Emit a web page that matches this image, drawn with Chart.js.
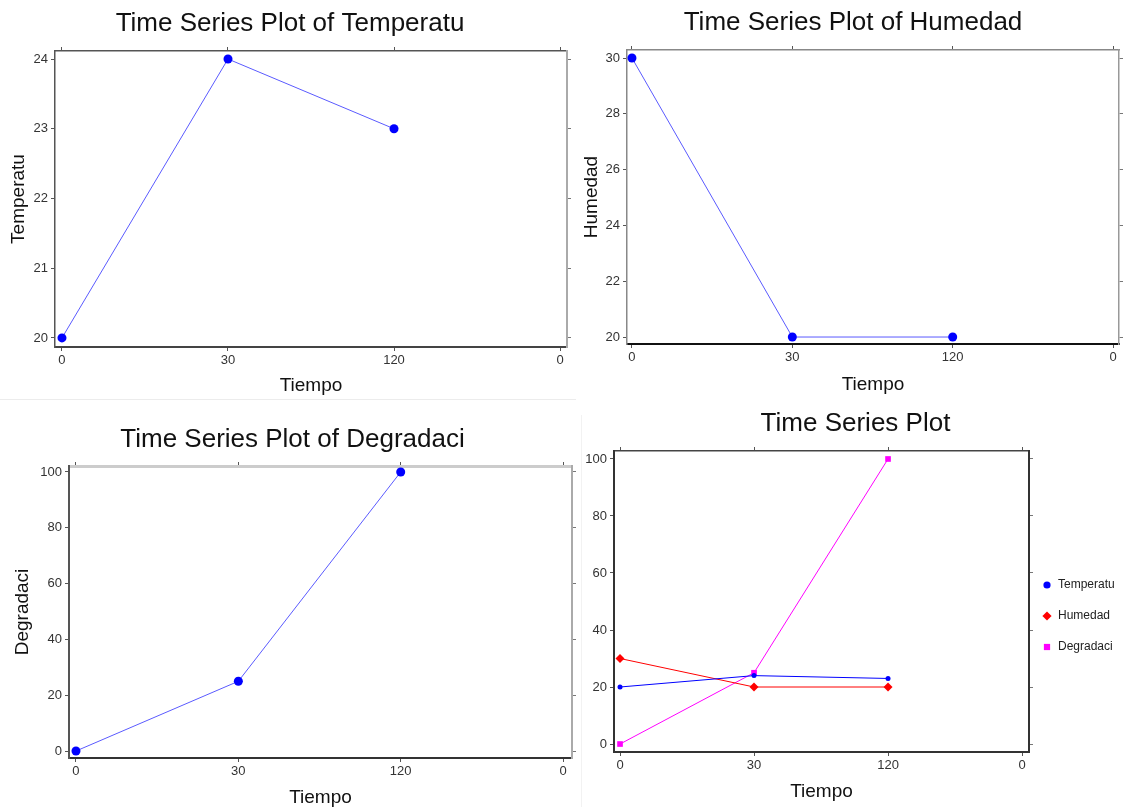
<!DOCTYPE html>
<html><head><meta charset="utf-8">
<script src="https://cdn.jsdelivr.net/npm/chart.js@4.4.1/dist/chart.umd.min.js"></script>
<style>
html,body{margin:0;padding:0;background:#fff;}
body{width:1126px;height:807px;overflow:hidden;position:relative;}
canvas{position:absolute;}
.edge{position:absolute;background:#ececec;}
</style></head><body>
<div class="edge" style="left:0;top:399px;width:576px;height:1px;"></div>
<div class="edge" style="left:581px;top:415px;width:1px;height:392px;background:#f2f2f2;"></div>
<canvas id="c1"></canvas>
<canvas id="c2"></canvas>
<canvas id="c3"></canvas>
<canvas id="c4"></canvas>
<script>
// ---- data ----
const tiempo = ['0', '30', '120', '0'];
const temperatu = [20, 24, 23];
const humedad = [30, 20, 20];
const degradaci = [0, 25, 100];
const tempTicks = [20, 21, 22, 23, 24];
const humTicks = [20, 22, 24, 26, 28, 30];
const degTicks = [0, 20, 40, 60, 80, 100];
const allTicks = [0, 20, 40, 60, 80, 100];
const seriesNames = ['Temperatu', 'Humedad', 'Degradaci'];

const xIdx = tiempo.map((_, i) => i);
const FONT = "'Liberation Sans', Arial, sans-serif";
Chart.defaults.animation = false;

function pts(vals) { return vals.map((v, i) => ({ x: xIdx[i], y: v })); }

function drawMarker(ctx, style, r, x, y) {
  ctx.beginPath();
  if (style === 'circle') {
    ctx.arc(x, y, r, 0, Math.PI * 2);
  } else if (style === 'rectRot') {
    ctx.moveTo(x, y - r); ctx.lineTo(x + r, y); ctx.lineTo(x, y + r); ctx.lineTo(x - r, y); ctx.closePath();
  } else {
    const h = r * Math.SQRT1_2;
    ctx.rect(x - h, y - h, 2 * h, 2 * h);
  }
  ctx.fill();
}

// legend drawn at the right of the combined plot
const sideLegend = {
  id: 'sideLegend',
  afterDraw(chart, args, opts) {
    if (!opts || !opts.display) return;
    const ctx = chart.ctx;
    ctx.save();
    ctx.font = '12px ' + FONT;
    ctx.textBaseline = 'middle';
    ctx.textAlign = 'left';
    chart.data.datasets.forEach((ds, i) => {
      const y = opts.y0 + i * opts.step;
      ctx.fillStyle = ds.borderColor;
      drawMarker(ctx, ds.pointStyle, opts.radius[i], opts.x, y);
      ctx.fillStyle = '#222';
      ctx.fillText(ds.label, opts.x + opts.textGap, y);
    });
    ctx.restore();
  }
};

function makePanel(p) {
  const cv = document.getElementById(p.id);
  cv.style.left = p.x + 'px'; cv.style.top = p.y + 'px';
  cv.width = p.w; cv.height = p.h;
  cv.style.width = p.w + 'px'; cv.style.height = p.h + 'px';
  const l = p.area[0] - p.x, t = p.area[1] - p.y;
  const r = p.x + p.w - p.area[2], b = p.y + p.h - p.area[3];
  const tSize = 26, tLH = 1.2;
  const tPad = p.titleY - p.y - tSize * tLH / 2;
  const titleH = tSize * tLH + tPad;
  const tickFont = { family: FONT, size: 13 };
  const xTicks = s => { s.ticks = xIdx.map(v => ({ value: v })); };
  const yTicks = s => { s.ticks = p.yTicks.map(v => ({ value: v })); };
  const grid = c => ({ drawOnChartArea: false, drawTicks: true, tickLength: 4, color: c, lineWidth: 1 });
  const bd = p.borders;
  const cfg = {
    type: 'line',
    data: { datasets: p.datasets },
    plugins: [sideLegend],
    options: {
      responsive: false,
      animation: false,
      layout: { padding: 0 },
      plugins: {
        title: {
          display: true, text: p.title, color: '#111',
          font: { family: FONT, size: tSize, weight: 'normal', lineHeight: tLH },
          padding: { top: tPad, bottom: 0 }
        },
        legend: { display: false },
        tooltip: { enabled: false },
        sideLegend: p.sideLegend ? Object.assign({ display: true }, p.sideLegend, { x: p.sideLegend.x - p.x, y0: p.sideLegend.y0 - p.y }) : { display: false }
      },
      scales: {
        x: {
          type: 'linear', position: 'bottom', min: p.xMin, max: p.xMax,
          afterBuildTicks: xTicks, afterFit: s => { s.height = b; },
          ticks: { callback: v => tiempo[v], font: tickFont, color: '#333', padding: 2, autoSkip: false, maxRotation: 0 },
          grid: grid('#555'),
          border: { color: bd.bottom[0], width: bd.bottom[1] },
          title: { display: true, text: 'Tiempo', color: '#111', font: { family: FONT, size: 19 }, padding: { top: 0, bottom: p.xTitlePad } }
        },
        x2: {
          type: 'linear', position: 'top', min: p.xMin, max: p.xMax,
          afterBuildTicks: xTicks, afterFit: s => { s.height = t - titleH; },
          ticks: { display: false },
          grid: grid('#555'),
          border: { color: bd.top[0], width: bd.top[1] }
        },
        y: {
          type: 'linear', position: 'left', min: p.yMin, max: p.yMax,
          afterBuildTicks: yTicks, afterFit: s => { s.width = l; },
          ticks: { font: tickFont, color: '#333', padding: 3, autoSkip: false },
          grid: grid('#555'),
          border: { color: bd.left[0], width: bd.left[1] },
          title: { display: !!p.yTitle, text: p.yTitle || '', color: '#111', font: { family: FONT, size: 19 }, padding: { top: p.yTitlePad || 0, bottom: 0 } }
        },
        y2: {
          type: 'linear', position: 'right', min: p.yMin, max: p.yMax,
          afterBuildTicks: yTicks, afterFit: s => { s.width = r; },
          ticks: { display: false },
          grid: grid('#777'),
          border: { color: bd.right[0], width: bd.right[1] }
        }
      }
    }
  };
  return new Chart(cv, cfg);
}

function single(vals) {
  return [{
    label: 'v', data: pts(vals), borderColor: '#5a5aff', backgroundColor: '#0000ff',
    borderWidth: 1, pointRadius: 4.5, pointBackgroundColor: '#0000ff', pointBorderColor: '#0000ff', pointBorderWidth: 0
  }];
}

makePanel({
  id: 'c1', x: 0, y: 0, w: 580, h: 400, area: [55, 51, 567, 347], titleY: 24,
  title: 'Time Series Plot of Temperatu', yTitle: 'Temperatu', yTitlePad: 7.6, xTitlePad: 2.6,
  xMin: -0.042, xMax: 3.042, yMin: 19.87, yMax: 24.115, yTicks: tempTicks,
  borders: { left: ['#555', 1.5], bottom: ['#444', 2], top: ['#555', 1.5], right: ['#aaa', 2] },
  datasets: single(temperatu)
});

makePanel({
  id: 'c2', x: 580, y: 0, w: 546, h: 400, area: [627, 50, 1119, 344], titleY: 23,
  title: 'Time Series Plot of Humedad', yTitle: 'Humedad', yTitlePad: 0, xTitlePad: 3.6,
  xMin: -0.031, xMax: 3.037, yMin: 19.75, yMax: 30.287, yTicks: humTicks,
  borders: { left: ['#888', 1.5], bottom: ['#111', 2], top: ['#888', 1.5], right: ['#999', 1.5] },
  datasets: single(humedad)
});

makePanel({
  id: 'c3', x: 0, y: 400, w: 585, h: 407, area: [69, 466, 572, 758], titleY: 439.5,
  title: 'Time Series Plot of Degradaci', yTitle: 'Degradaci', yTitlePad: 11.6, xTitlePad: -2,
  xMin: -0.043, xMax: 3.055, yMin: -2.5, yMax: 102.15, yTicks: degTicks,
  borders: { left: ['#555', 2], bottom: ['#333', 2], top: ['#ccc', 3], right: ['#aaa', 2] },
  datasets: single(degradaci)
});

const multiColors = ['#0000ff', '#ff0000', '#ff00ff'];
const multiStyles = ['circle', 'rectRot', 'rect'];
const multiRadius = [2.5, 4.5, 4];
const multiVals = [temperatu, humedad, degradaci];
makePanel({
  id: 'c4', x: 585, y: 400, w: 541, h: 407, area: [614, 451, 1029, 752], titleY: 423.5,
  title: 'Time Series Plot', xTitlePad: 3.6,
  xMin: -0.045, xMax: 3.052, yMin: -2.8, yMax: 102.8, yTicks: allTicks,
  borders: { left: ['#333', 2], bottom: ['#333', 2], top: ['#444', 1.5], right: ['#333', 2] },
  sideLegend: { x: 1047, y0: 585, step: 31, textGap: 11, radius: [3.6, 4.6, 4.4] },
  datasets: seriesNames.map((n, i) => ({
    label: n, data: pts(multiVals[i]), borderColor: multiColors[i], backgroundColor: multiColors[i],
    borderWidth: 1, pointStyle: multiStyles[i], pointRadius: multiRadius[i],
    pointBackgroundColor: multiColors[i], pointBorderColor: multiColors[i], pointBorderWidth: 0
  }))
});
</script>
</body></html>
